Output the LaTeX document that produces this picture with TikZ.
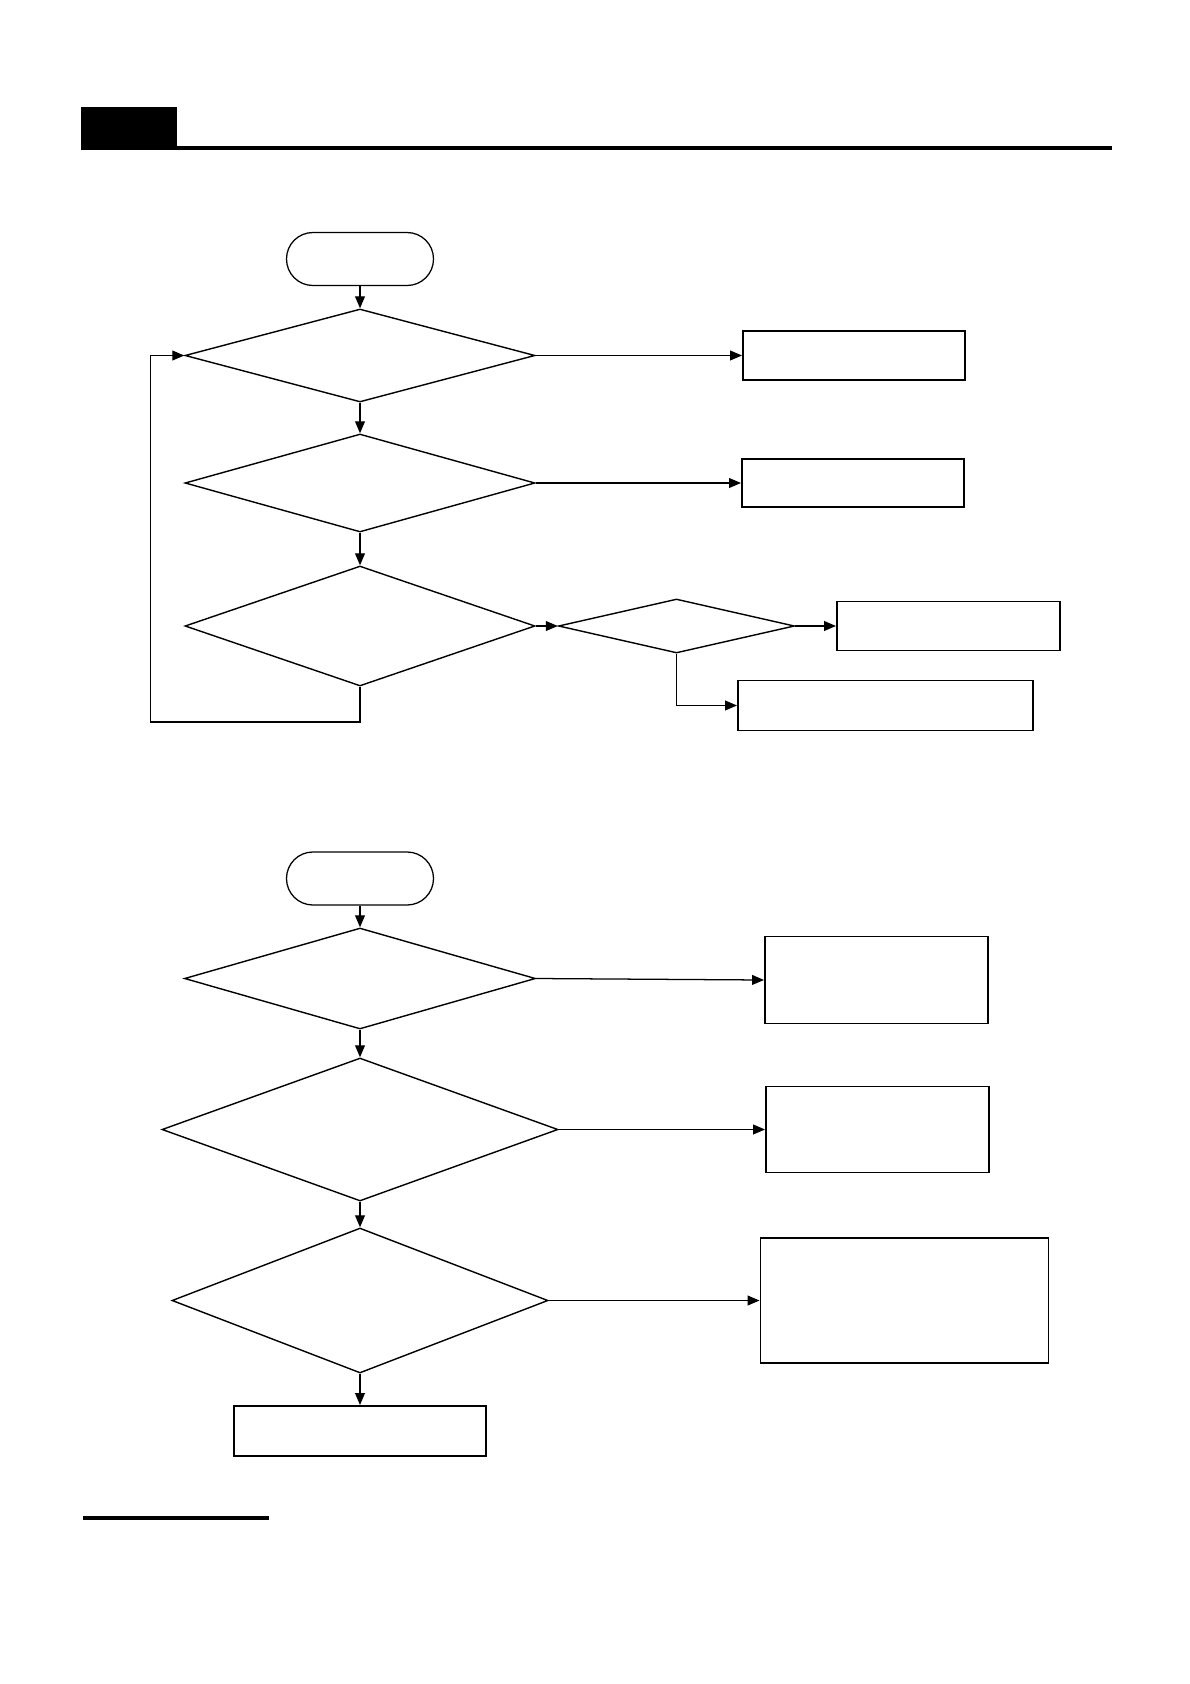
\documentclass[tikz,border=0pt]{standalone}
\usetikzlibrary{arrows.meta,shapes.geometric,positioning}
\newcommand{\pxu}{0.025cm}

\begin{document}
\begin{tikzpicture}[
  x=\pxu, y=-\pxu,
  >={Triangle[length=8.5pt,width=7pt]},
  term/.style={draw,rectangle,rounded corners=0.66cm,line width=0.9pt,inner sep=0pt,minimum width=147*\pxu,minimum height=53*\pxu},
  dec/.style={draw,diamond,line width=1pt,inner sep=0pt},
  proc/.style={draw,rectangle,line width=1.4pt,inner sep=0pt},
  arr/.style={->,line width=0.9pt}
]
\useasboundingbox (0,0) rectangle (1190,1684);

% page header and footer rules
\fill (80.5,107) rectangle (177,149.5);
\fill (177,145.5) rectangle (1111.5,149.5);
\fill (82.7,1515.5) rectangle (268.5,1519.5);

% first chart
\node[term] (st1) at (360,259) {};
\node[dec,minimum width=350*\pxu,minimum height=93*\pxu]  (d1) at (360,355.5) {};
\node[dec,minimum width=350*\pxu,minimum height=98*\pxu]  (d2) at (360,483) {};
\node[dec,minimum width=350*\pxu,minimum height=120*\pxu] (d3) at (360,626) {};
\node[dec,minimum width=236*\pxu,minimum height=54*\pxu]  (d4) at (676.5,626) {};
\node[proc,minimum width=222*\pxu,minimum height=49*\pxu] (r1) at (854,355.5) {};
\node[proc,minimum width=222*\pxu,minimum height=48*\pxu] (r2) at (853,483) {};
\node[proc,minimum width=223*\pxu,minimum height=49*\pxu] (r3) at (948.5,626) {};
\node[proc,minimum width=295*\pxu,minimum height=50*\pxu] (r4) at (885.5,705.5) {};
\coordinate (lp) at (150.5,722);

\draw[arr] (st1) -- (d1);
\draw[arr] (d1) -- (d2);
\draw[arr] (d2) -- (d3);
\draw[arr] (d1.east) -- (r1.west);
\draw[arr] (d2.east) -- (r2.west);
\draw[arr] (d3.east) -- (d4.west);
\draw[arr] (d4.east) -- (r3.west);
\draw[arr] (d4.south) |- (r4.west);
\draw[arr] (d3.south) |- (lp) |- (d1.west);

% second chart
\node[term] (st2) at (360,878.5) {};
\node[dec,minimum width=351*\pxu,minimum height=101*\pxu] (e1) at (360,978.5) {};
\node[dec,minimum width=396*\pxu,minimum height=143*\pxu] (e2) at (360,1129.5) {};
\node[dec,minimum width=376*\pxu,minimum height=145*\pxu] (e3) at (360,1300.5) {};
\node[proc,minimum width=223*\pxu,minimum height=87*\pxu]  (s1) at (876.5,980) {};
\node[proc,minimum width=223*\pxu,minimum height=86*\pxu]  (s2) at (877.5,1129.5) {};
\node[proc,minimum width=288*\pxu,minimum height=125*\pxu] (s3) at (904.5,1300.5) {};
\node[proc,minimum width=252*\pxu,minimum height=50*\pxu]  (s4) at (360,1431) {};

\draw[arr] (st2) -- (e1);
\draw[arr] (e1) -- (e2);
\draw[arr] (e2) -- (e3);
\draw[arr] (e3) -- (s4);
\draw[arr] (e1.east) -- (s1.west);
\draw[arr] (e2.east) -- (s2.west);
\draw[arr] (e3.east) -- (s3.west);
\end{tikzpicture}
\end{document}
